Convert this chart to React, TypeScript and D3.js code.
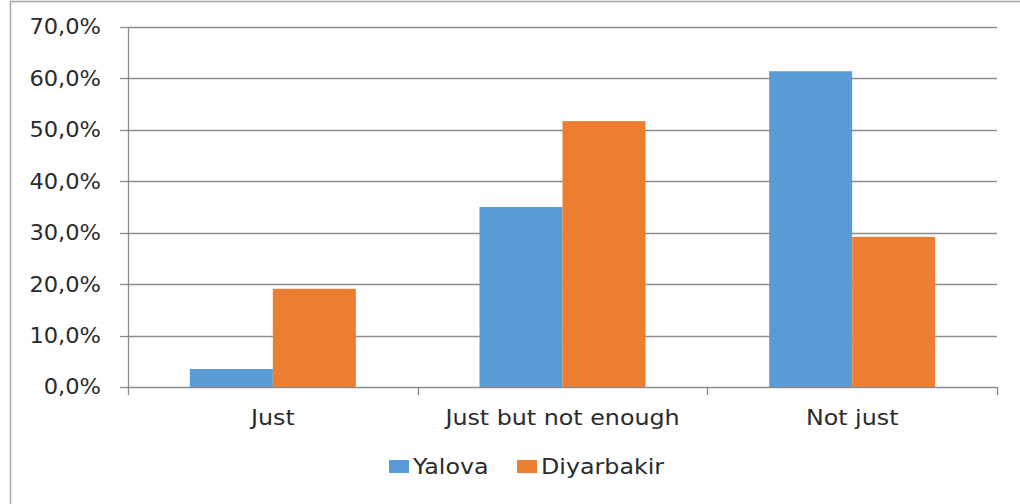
import React from "react";
import * as d3 from "d3";

const categories = ["Just", "Just but not enough", "Not just"];
const seriesNames = ["Yalova", "Diyarbakir"];
const yalova = [3.5, 35.0, 61.4];
const diyarbakir = [19.1, 51.7, 29.2];
const yTicks = [0, 10, 20, 30, 40, 50, 60, 70];
const colors = ["#5B9BD5", "#ED7D31"];

const W = 1020;
const H = 504;
const left = 128;
const right = 997;
const top = 27;
const bottom = 387;
const FONT = "'DejaVu Sans', sans-serif";
const FS = 20.5;
const TXT = "#2b2b2b";

function T(props: { x: number; y: number; sx?: number; anchor?: string; dy?: string; children: React.ReactNode }) {
  return (
    <g transform={`translate(${props.x},${props.y}) scale(${props.sx ?? 1.16},1)`}>
      <text x={0} y={0} dy={props.dy} textAnchor={props.anchor || "start"} fontSize={FS} fill={TXT}>
        {props.children}
      </text>
    </g>
  );
}

export default function App() {
  const x = d3
    .scaleBand<string>()
    .domain(categories)
    .range([left, right])
    .paddingInner(0.427)
    .paddingOuter(0.2135);
  const xInner = d3
    .scaleBand<string>()
    .domain(seriesNames)
    .range([0, x.bandwidth()]);
  const y = d3.scaleLinear().domain([0, 70]).range([bottom, top]);
  const step = (right - left) / categories.length;
  const seriesValues = [yalova, diyarbakir];
  const fmt = (v: number) => v.toFixed(1).replace(".", ",") + "%";

  return (
    <svg
      width={W}
      height={H}
      style={{ position: "absolute", left: 0, top: 0, background: "#fff" }}
      fontFamily={FONT}
    >
      <rect x={10.5} y={1.5} width={W + 10} height={H + 10} fill="#fff" stroke="#a6a6a6" strokeWidth={1.5} />
      {yTicks.map((t) => (
        <g key={t}>
          {t > 0 && (
            <line x1={left} x2={right} y1={Math.round(y(t)) + 0.5} y2={Math.round(y(t)) + 0.5} stroke="#8c8c8c" strokeWidth={1.3} />
          )}
          <line x1={left - 8} x2={left} y1={Math.round(y(t)) + 0.5} y2={Math.round(y(t)) + 0.5} stroke="#8c8c8c" strokeWidth={1.3} />
          <T x={101} y={y(t)} sx={1.1} dy="0.36em" anchor="end">
            {fmt(t)}
          </T>
        </g>
      ))}
      {categories.map((c, i) =>
        seriesNames.map((s, j) => {
          const v = seriesValues[j][i];
          return (
            <rect
              key={c + s}
              x={(x(c) as number) + (xInner(s) as number)}
              y={y(v)}
              width={xInner.bandwidth()}
              height={bottom - y(v)}
              fill={colors[j]}
            />
          );
        })
      )}
      <line x1={left + 0.5} x2={left + 0.5} y1={top} y2={bottom} stroke="#8c8c8c" strokeWidth={1.3} />
      <line x1={left} x2={right} y1={bottom + 0.5} y2={bottom + 0.5} stroke="#8c8c8c" strokeWidth={1.3} />
      {d3.range(categories.length + 1).map((k) => (
        <line
          key={k}
          x1={Math.round(left + k * step) + 0.5}
          x2={Math.round(left + k * step) + 0.5}
          y1={bottom}
          y2={bottom + 8}
          stroke="#8c8c8c"
          strokeWidth={1.3}
        />
      ))}
      {categories.map((c) => (
        <T key={c} x={(x(c) as number) + x.bandwidth() / 2} y={425} anchor="middle">
          {c}
        </T>
      ))}
      <g>
        <rect x={389} y={460} width={20} height={13} fill={colors[0]} />
        <T x={413} y={474}>
          {seriesNames[0]}
        </T>
        <rect x={517} y={460} width={20} height={13} fill={colors[1]} />
        <T x={541} y={474}>
          {seriesNames[1]}
        </T>
      </g>
    </svg>
  );
}
